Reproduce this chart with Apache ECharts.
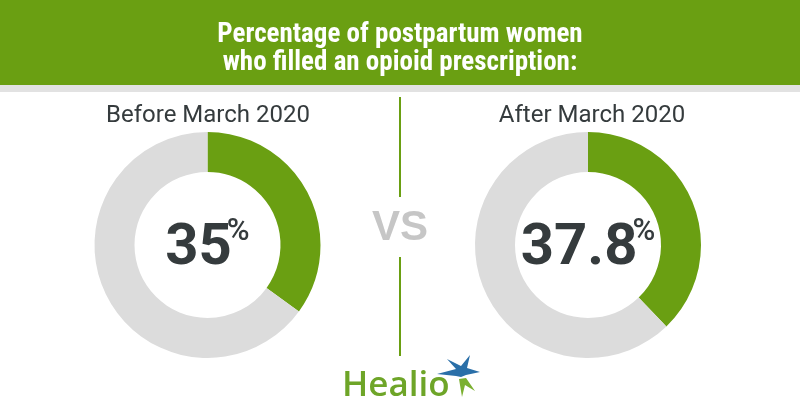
<!DOCTYPE html>
<html><head><meta charset="utf-8">
<script src="https://cdn.jsdelivr.net/npm/echarts@6/dist/echarts.min.js"></script>
<style>html,body{margin:0;padding:0;background:#fff}#c{width:800px;height:420px}</style>
</head><body><div id="c"></div>
<script>
const titleLines = ['Percentage of postpartum women', 'who filled an opioid prescription:'];
const categories = ['Before March 2020', 'After March 2020'];
const values = [35, 37.8];
const centersX = [207.5, 588];
const GREEN = '#6a9f12';
const GRAY = '#dcdcdc';
const DARK = '#353b3d';

const chart = echarts.init(document.getElementById('c'));
const condensed = "'Roboto Condensed','Liberation Sans Narrow','DejaVu Sans Condensed',sans-serif";

const series = categories.map((cat, i) => ({
  type: 'pie',
  name: cat,
  center: [centersX[i], 245],
  radius: [73, 113],
  startAngle: 90,
  clockwise: true,
  silent: true,
  avoidLabelOverlap: false,
  labelLine: {show: false},
  data: [
    {name: cat, value: values[i], itemStyle: {color: GREEN},
     label: {show: true, position: 'center', padding: [8, 0, 0, 0],
       formatter: () => '{n|' + values[i] + '}{p|%}',
       rich: {
         n: {fontFamily: 'Roboto', fontWeight: 'bold', fontSize: 58, color: DARK, lineHeight: 64},
         p: {fontFamily: 'Roboto', fontWeight: 500, fontSize: 31, color: DARK, lineHeight: 60, verticalAlign: 'top', padding: [0, 0, 0, -5]}
       }}},
    {name: 'rest', value: +(100 - values[i]).toFixed(1), itemStyle: {color: GRAY}, label: {show: false}}
  ]
}));

chart.setOption({
  animation: false,
  title: [
    {text: titleLines.join('\n'), left: 'center', top: 16,
     textStyle: {color: '#fff', fontFamily: condensed, fontWeight: 'bold', fontSize: 27, lineHeight: 28}},
    {text: categories[0], left: 203, top: 99, textAlign: 'center',
     textStyle: {color: DARK, fontFamily: 'Roboto', fontWeight: 'normal', fontSize: 24}},
    {text: categories[1], left: 587, top: 99, textAlign: 'center',
     textStyle: {color: DARK, fontFamily: 'Roboto', fontWeight: 'normal', fontSize: 24}}
  ],
  graphic: [
    {type: 'rect', z: -1, shape: {x: 0, y: 0, width: 800, height: 85}, style: {fill: GREEN}},
    {type: 'rect', z: -1, shape: {x: 0, y: 85, width: 800, height: 7}, style: {fill: '#e2e2e2'}},
    {type: 'line', shape: {x1: 400, y1: 97, x2: 400, y2: 197}, style: {stroke: GREEN, lineWidth: 2}},
    {type: 'line', shape: {x1: 400, y1: 257, x2: 400, y2: 356}, style: {stroke: GREEN, lineWidth: 2}},
    {type: 'text', x: 400, y: 228, style: {text: 'VS', fill: '#c6c6c6', font: 'bold 42px "Liberation Sans", Arial, sans-serif', textAlign: 'center', textVerticalAlign: 'middle'}},
    {type: 'text', x: 342, y: 386, style: {text: 'Healio', fill: '#6ea528', font: '600 35px "Open Sans", "Noto Sans", sans-serif', textAlign: 'left', textVerticalAlign: 'middle'}},
    {type: 'polygon', shape: {points: [[437,374],[456,369],[447,359],[461,366],[470,355],[467,368],[480,372],[466,375],[461,377],[456,376]]}, style: {fill: '#2a6fa8'}},
    {type: 'polygon', shape: {points: [[459,379],[466,378],[475,391],[465,385],[462,397]]}, style: {fill: '#7bb030'}}
  ],
  series: series
});
</script></body></html>
